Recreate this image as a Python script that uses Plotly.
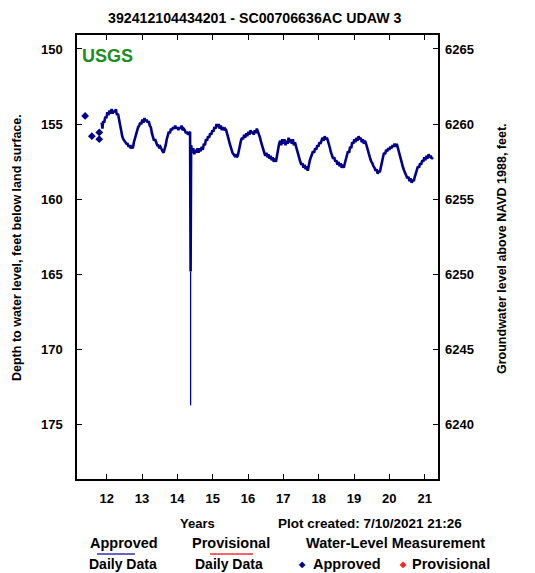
import plotly.graph_objects as go

# ---------------------------------------------------------------------------
# Site 392412104434201 - SC00706636AC UDAW 3
# Depth to water (feet below land surface); land surface datum = 6415 ft NAVD88
# ---------------------------------------------------------------------------
LAND_SURFACE = 6415.0

# Daily record, readings roughly every 11 days (0.03 yr)
SAMPLE_STEP = 0.03

start_years = [2011.86, 2011.88, 2011.90]
start_depth = [154.9, 155.3, 154.8]

# 2011.93 .. 2014.36
pre_event_start = 2011.93
pre_event_depth = [
    154.9, 154.5, 154.6, 154.2, 154.4, 154.1, 154.3, 154.0, 154.3, 154.1,
    154.2, 154.0, 154.4, 154.3, 154.7, 155.0, 155.4, 155.8, 156.0, 156.1,
    156.2, 156.3, 156.3, 156.5, 156.4, 156.6, 156.5,
    156.6, 156.2, 155.9, 155.6, 155.5, 155.2, 155.1, 154.9, 155.0, 154.7,
    154.9, 154.6, 154.8, 154.7, 154.9, 154.8, 155.1, 155.2, 155.6, 155.9,
    156.1, 156.0, 156.3, 156.4, 156.4, 156.6, 156.5, 156.7, 156.8, 156.9,
    156.7,
    156.4, 156.0, 155.8, 155.5, 155.6, 155.3, 155.4, 155.2, 155.3, 155.1,
    155.3, 155.2, 155.4, 155.2, 155.3, 155.1, 155.4, 155.3, 155.4, 155.6,
    155.5, 155.7, 155.6, 155.5,
]

# Short pumping drawdown in spring 2014
event_year = 2014.375
event_depth = 164.8
event_peak_depth = 173.7

# 2014.39 .. 2021.23
post_event_start = 2014.39
post_event_depth = [
    156.4, 156.9, 156.6, 157.0, 156.7, 156.9, 156.6, 156.9, 156.6, 156.8,
    156.5, 156.7, 156.3, 156.4, 156.0, 156.1, 155.8, 155.9, 155.6, 155.7,
    155.4, 155.5, 155.2, 155.3, 155.0, 155.2, 155.0, 155.3, 155.1, 155.4,
    155.2, 155.4, 155.3, 155.4, 155.6, 155.9, 156.2, 156.5, 156.8, 156.9,
    157.0, 157.1, 157.0, 157.2, 157.1,
    156.7, 156.3, 156.1, 155.9, 156.0, 155.7, 155.9, 155.6, 155.8, 155.5,
    155.7, 155.4, 155.6, 155.5, 155.7, 155.4, 155.6, 155.3, 155.5, 155.6,
    155.9, 156.2, 156.5, 156.8, 156.9, 157.1, 156.9, 157.2, 157.0, 157.3,
    157.1, 157.4, 157.2, 157.5, 157.3, 157.5, 157.2,
    156.7, 156.3, 156.1, 156.4, 156.0, 156.3, 156.0, 156.4, 156.1, 156.3,
    155.9, 156.2, 156.0, 156.3, 156.0, 156.4, 156.2, 156.5, 156.8, 157.1,
    157.4, 157.5, 157.7, 157.6, 157.9, 157.7, 158.0, 157.8, 158.1, 157.6,
    157.4, 157.2, 157.0, 156.8, 156.9, 156.6, 156.7, 156.4, 156.5, 156.2,
    156.3, 156.0, 155.9, 156.1, 155.8, 156.0, 155.9, 156.1, 156.3, 156.6,
    156.9, 157.1, 157.3, 157.2, 157.5, 157.4, 157.7, 157.5, 157.8, 157.6,
    157.9, 157.7, 157.9, 157.6,
    157.3, 157.0, 156.8, 156.9, 156.5, 156.6, 156.2, 156.3, 156.0, 156.2,
    155.9, 156.1, 155.8, 156.0, 155.9, 156.2, 156.0, 156.3, 156.1, 156.3,
    156.6, 156.9, 157.1, 157.3, 157.5, 157.6, 157.8, 157.9, 158.1, 158.0,
    158.3, 158.1, 158.2,
    157.8, 157.4, 157.2, 156.9, 157.0, 156.7, 156.8, 156.6, 156.7, 156.5,
    156.6, 156.4, 156.5, 156.3, 156.5, 156.3, 156.6, 156.9, 157.2, 157.5,
    157.7, 157.9, 158.1, 158.3, 158.4, 158.6, 158.5, 158.8, 158.6, 158.9,
    158.7, 158.8, 158.5,
    158.2, 158.0, 157.8, 157.9, 157.6, 157.7, 157.4, 157.5, 157.2, 157.4,
    157.1, 157.3, 157.0, 157.2, 157.1, 157.3, 157.2,
]

# Field water-level measurements (approved)
meas_year = [2011.39, 2011.58, 2011.79, 2011.79]
meas_depth = [154.45, 155.8, 155.55, 156.0]

year_ticks = list(range(2012, 2022))
year_labels = [f"{y % 100:02d}" for y in year_ticks]
depth_ticks = [150, 155, 160, 165, 170, 175]
elev_ticks = [6240, 6245, 6250, 6255, 6260, 6265]

# ---------------------------------------------------------------------------
def sample_years(start, n):
    return [round(start + SAMPLE_STEP * i, 3) for i in range(n)]

daily_year = (start_years
              + sample_years(pre_event_start, len(pre_event_depth))
              + [event_year]
              + sample_years(post_event_start, len(post_event_depth)))
daily_depth = start_depth + pre_event_depth + [event_depth] + post_event_depth

NAVY = "#00008B"
FONT = "Liberation Sans, Arial, sans-serif"

# plot area in pixels
L, R, T, B = 77, 438, 35, 479
W, H = 535, 573


def px_x(px):
    return (px - L) / (R - L)


def px_y(py):
    return (B - py) / (B - T)


depth_range = [178.6, 149.07]

fig = go.Figure()
fig.add_trace(go.Scatter(
    x=daily_year, y=daily_depth, mode="lines",
    line=dict(color=NAVY, width=2.6), hoverinfo="x+y",
))
fig.add_trace(go.Scatter(
    x=[event_year, event_year], y=[event_depth, event_peak_depth], mode="lines",
    line=dict(color=NAVY, width=1.3), hoverinfo="x+y",
))
fig.add_trace(go.Scatter(
    x=meas_year, y=meas_depth, mode="markers",
    marker=dict(symbol="diamond", size=6, color=NAVY), hoverinfo="x+y",
))
# elevation scale on the right
fig.add_trace(go.Scatter(
    x=meas_year, y=[LAND_SURFACE - d for d in meas_depth], yaxis="y2",
    mode="markers", marker=dict(size=1, opacity=0), hoverinfo="skip",
))

tick_font = dict(family=FONT, size=13, color="black", weight="bold")

fig.update_layout(
    width=W, height=H,
    margin=dict(l=L, r=W - R, t=T, b=H - B, pad=0),
    paper_bgcolor="white", plot_bgcolor="white",
    showlegend=False,
    xaxis=dict(
        range=[2011.16, 2021.377], tickvals=year_ticks, ticktext=year_labels,
        ticks="inside", ticklen=5, tickwidth=1, tickcolor="black",
        showline=True, linecolor="black", linewidth=1.5, mirror="ticks",
        showgrid=False, zeroline=False, tickfont=tick_font,
        ticklabelstandoff=7,
    ),
    yaxis=dict(
        range=depth_range, tickvals=depth_ticks,
        ticks="inside", ticklen=5, tickwidth=1, tickcolor="black",
        showline=True, linecolor="black", linewidth=1.5, mirror="ticks",
        showgrid=False, zeroline=False, tickfont=tick_font,
        ticklabelstandoff=10,
    ),
    yaxis2=dict(
        overlaying="y", side="right",
        range=[LAND_SURFACE - depth_range[0], LAND_SURFACE - depth_range[1]],
        tickvals=elev_ticks, ticks="", showline=False,
        showgrid=False, zeroline=False, tickfont=tick_font,
        ticklabelstandoff=6,
    ),
)


def label(text, x, y, size=13, color="black", xanchor="center", angle=0):
    fig.add_annotation(
        text=text, x=px_x(x), y=px_y(y), xref="paper", yref="paper",
        xanchor=xanchor, yanchor="middle", showarrow=False, textangle=angle,
        font=dict(family=FONT, size=size, color=color, weight="bold"),
    )


label("392412104434201 - SC00706636AC UDAW 3", 255, 18, size=14.2)
label("USGS", 80, 56, size=18, color="#1E8C1E", xanchor="left")
label("Depth to water level, feet below land surface.", 17, 248, size=12.5, angle=-90)
label("Groundwater level above NAVD 1988, feet.", 502, 249, size=12.5, angle=-90)
label("Years", 197, 523, size=13)
label("Plot created: 7/10/2021 21:26", 276, 523, size=13.5, xanchor="left")

label("Approved", 124, 543, size=14.5)
label("Daily Data", 123, 564, size=14)
label("Provisional", 231, 543, size=14.5)
label("Daily Data", 229, 564, size=14)
label("Water-Level Measurement", 395, 543, size=14.5)
label("\u25c6", 302, 564, size=8, color=NAVY)
label("Approved", 311, 564, size=14.5, xanchor="left")
label("\u25c6", 403, 564, size=8, color="#FF2020")
label("Provisional", 410, 564, size=14.5, xanchor="left")

for x0, x1, color in [(97, 135, "#3333AA"), (210, 253, "#FF3030")]:
    fig.add_shape(
        type="line", xref="paper", yref="paper",
        x0=px_x(x0), x1=px_x(x1), y0=px_y(554), y1=px_y(554),
        line=dict(color=color, width=1.5),
    )

fig.write_html("out.html")
